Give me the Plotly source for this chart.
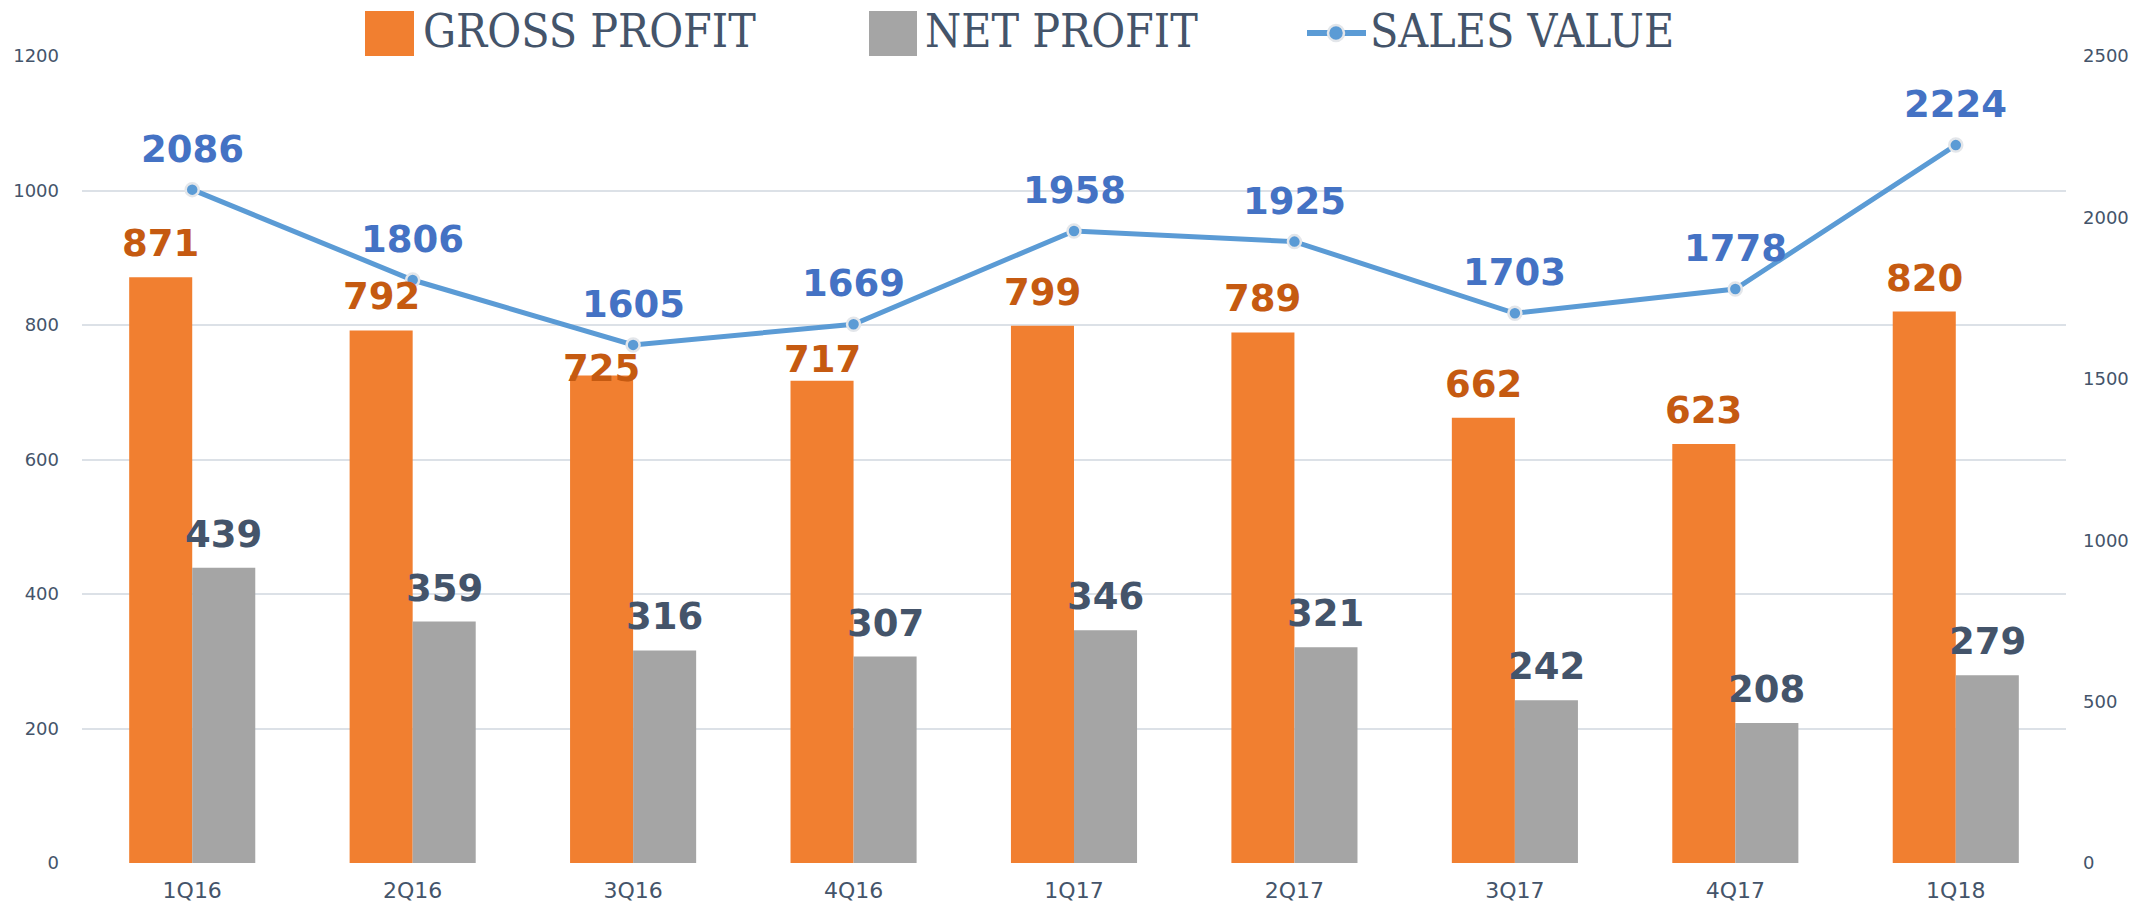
import plotly.graph_objects as go

quarters = ["1Q16", "2Q16", "3Q16", "4Q16", "1Q17", "2Q17", "3Q17", "4Q17", "1Q18"]
gross_profit = [871, 792, 725, 717, 799, 789, 662, 623, 820]
net_profit = [439, 359, 316, 307, 346, 321, 242, 208, 279]
sales_value = [2086, 1806, 1605, 1669, 1958, 1925, 1703, 1778, 2224]
left_ticks = [0, 200, 400, 600, 800, 1000, 1200]
right_ticks = [0, 500, 1000, 1500, 2000, 2500]

W, H = 2152, 904
L, R, T, B = 82, 86, 56, 41
PW, PH = W - L - R, H - T - B

ORANGE = "#F17F30"
GRAY = "#A5A5A5"
LINE = "#5B9BD5"
ORANGE_TXT = "#C55A11"
NET_TXT = "#44546A"
BLUE_TXT = "#4472C4"
AXIS_TXT = "#44546A"

BAR_W = 0.286
# label nudges (pixels) where the original placed labels lower to avoid the line
gross_label_shift = {2: -17, 3: -2}

fig = go.Figure()
fig.add_trace(go.Bar(x=quarters, y=gross_profit, name="GROSS PROFIT",
                     marker=dict(color=ORANGE, line=dict(width=0)), showlegend=False))
fig.add_trace(go.Bar(x=quarters, y=net_profit, name="NET PROFIT",
                     marker=dict(color=GRAY, line=dict(width=0)), showlegend=False))
fig.add_trace(go.Scatter(x=quarters, y=sales_value, name="SALES VALUE", yaxis="y2",
                         mode="lines+markers",
                         line=dict(color=LINE, width=5),
                         marker=dict(size=13, color=LINE, line=dict(color="#E3E6EA", width=2.5)),
                         showlegend=False))

annotations = []
label_font = dict(family="DejaVu Sans", size=37, weight="bold")
for i, v in enumerate(gross_profit):
    annotations.append(dict(x=i - BAR_W / 2, y=v, xref="x", yref="y", text=str(v),
                            showarrow=False, yanchor="bottom",
                            yshift=gross_label_shift.get(i, 10),
                            font=dict(label_font, color=ORANGE_TXT)))
for i, v in enumerate(net_profit):
    annotations.append(dict(x=i + BAR_W / 2, y=v, xref="x", yref="y", text=str(v),
                            showarrow=False, yanchor="bottom", yshift=10,
                            font=dict(label_font, color=NET_TXT)))
for i, v in enumerate(sales_value):
    annotations.append(dict(x=i, y=v, xref="x", yref="y2", text=str(v),
                            showarrow=False, yanchor="bottom", yshift=17,
                            font=dict(label_font, color=BLUE_TXT)))

# custom legend (pixel -> paper)
def px(xp):
    return (xp - L) / PW

def py(yp):
    return (H - B - yp) / PH

shapes = []
legend_font = dict(family="DejaVu Serif Condensed", size=46, color=AXIS_TXT)
shapes.append(dict(type="rect", xref="paper", yref="paper", x0=px(365), x1=px(414),
                   y0=py(56), y1=py(11), fillcolor=ORANGE, line=dict(width=0), layer="above"))
annotations.append(dict(x=px(421), y=py(31), xref="paper", yref="paper", text="GROSS PROFIT",
                        showarrow=False, xanchor="left", yanchor="middle", font=legend_font))
shapes.append(dict(type="rect", xref="paper", yref="paper", x0=px(869), x1=px(917),
                   y0=py(56), y1=py(11), fillcolor=GRAY, line=dict(width=0), layer="above"))
annotations.append(dict(x=px(923), y=py(31), xref="paper", yref="paper", text="NET PROFIT",
                        showarrow=False, xanchor="left", yanchor="middle", font=legend_font))
shapes.append(dict(type="line", xref="paper", yref="paper", x0=px(1307), x1=px(1366),
                   y0=py(33), y1=py(33), line=dict(color=LINE, width=6), layer="above"))
shapes.append(dict(type="circle", xref="paper", yref="paper", x0=px(1328), x1=px(1344),
                   y0=py(41), y1=py(25), fillcolor=LINE, line=dict(color="#E3E6EA", width=2.5),
                   layer="above"))
annotations.append(dict(x=px(1368), y=py(31), xref="paper", yref="paper", text="SALES VALUE",
                        showarrow=False, xanchor="left", yanchor="middle", font=legend_font))

fig.update_layout(
    width=W, height=H,
    margin=dict(l=L, r=R, t=T, b=B, pad=0, autoexpand=False),
    paper_bgcolor="white", plot_bgcolor="white",
    barmode="group", bargap=0.428, bargroupgap=0,
    showlegend=False,
    xaxis=dict(type="category", range=[-0.5, 8.5], showgrid=False, zeroline=False,
               showline=False, ticks="", automargin=False,
               tickfont=dict(family="DejaVu Sans", size=22, color=AXIS_TXT),
               ticklabelstandoff=12),
    yaxis=dict(range=[0, 1200], tickvals=left_ticks, showgrid=True, gridcolor="#DCE1E7",
               gridwidth=2, zeroline=False, showline=False, ticks="", automargin=False,
               tickfont=dict(family="DejaVu Sans", size=18, color=AXIS_TXT),
               ticklabelstandoff=22),
    yaxis2=dict(range=[0, 2500], tickvals=right_ticks, overlaying="y", side="right",
                showgrid=False, zeroline=False, showline=False, ticks="", automargin=False,
                tickfont=dict(family="DejaVu Sans", size=18, color=AXIS_TXT),
                ticklabelstandoff=16),
    annotations=annotations,
    shapes=shapes,
)

fig.write_html("out.html", config={"displayModeBar": False},
               post_script="document.body.style.margin='0';document.body.style.padding='0';")
